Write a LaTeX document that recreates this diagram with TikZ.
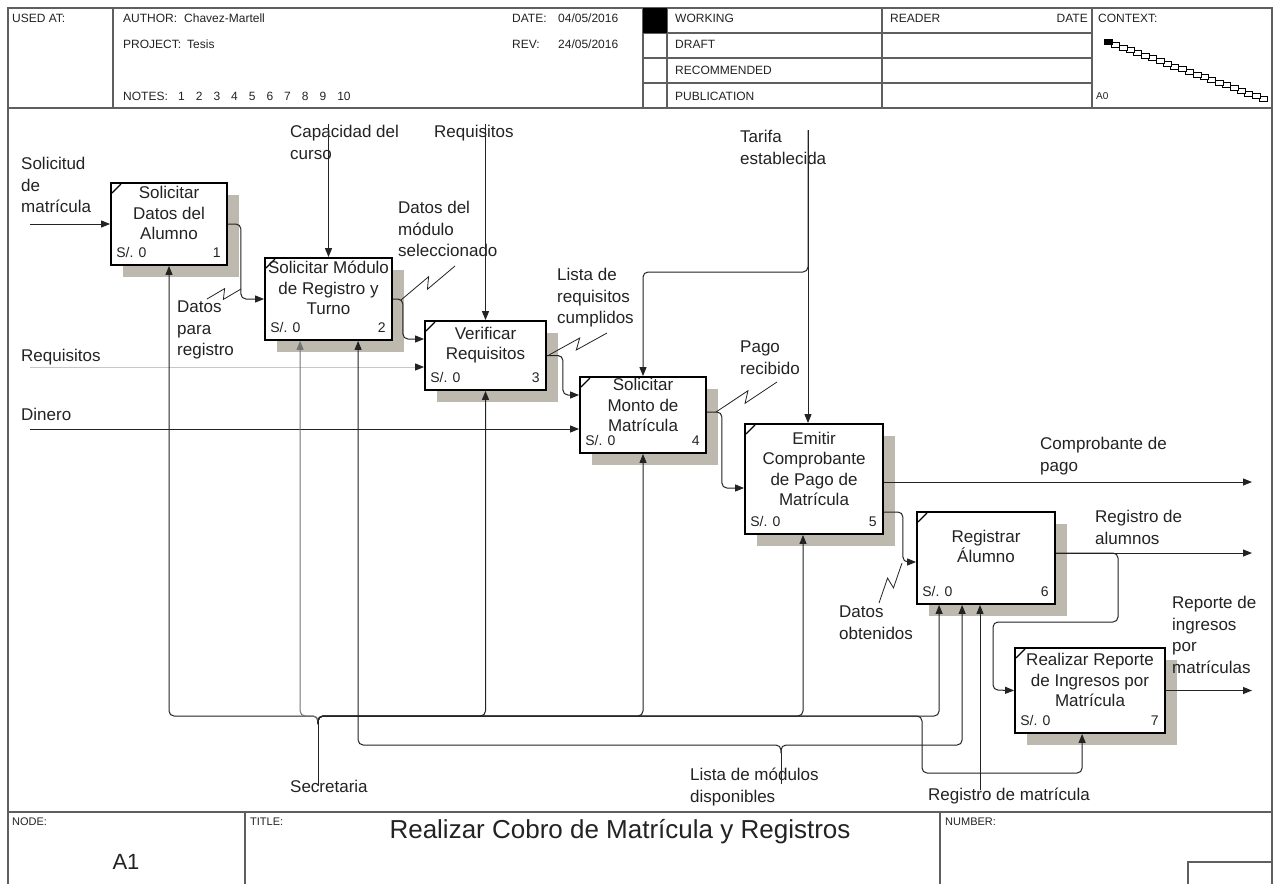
\documentclass[tikz,border=0pt]{standalone}
\usepackage{fontspec}
\setmainfont{Liberation Sans}
\usetikzlibrary{arrows.meta,calc,shadows}
\definecolor{shadowgray}{RGB}{189,185,174}
\definecolor{ink}{RGB}{35,35,35}
\definecolor{rulegray}{RGB}{95,95,95}
% label-to-arrow squiggle with a small zig in the middle
\newcommand\squiggle[2]{\draw[squig] (#1) -- ($(#1)!0.56!(#2)!5pt!90:(#2)$) -- ($(#1)!0.44!(#2)!5pt!-90:(#2)$) -- (#2);}
\begin{document}
\begin{tikzpicture}[x=1pt,y=-1pt,
  sheetline/.style={draw=rulegray, line width=1.4pt},
  proc/.style={draw=black, line width=1.8pt, fill=white,
    drop shadow={shadow xshift=12pt, shadow yshift=-12pt, fill=shadowgray, opacity=1},
    path picture={\draw[line width=1.1pt] ($(path picture bounding box.north west)+(1,10)$) -- ($(path picture bounding box.north west)+(10,1)$);}},
  ptxt/.style={font=\fontsize{17}{20.5}\selectfont, align=center, inner sep=0pt, text=ink},
  snum/.style={font=\fontsize{14}{16}\selectfont, inner sep=0pt, text=ink},
  lbl/.style={font=\fontsize{17}{21.5}\selectfont, align=left, inner sep=0pt, anchor=north west, text=ink},
  hdr/.style={font=\fontsize{12}{14}\selectfont, inner sep=0pt, anchor=west, text=ink},
  ftr/.style={font=\fontsize{11}{13}\selectfont, inner sep=0pt, anchor=west, text=ink},
  wire/.style={draw=ink, line width=1pt, rounded corners=5pt},
  arr/.style={wire, -{Triangle[length=9pt,width=7pt]}},
  squig/.style={draw=ink, line width=0.8pt}]
\useasboundingbox (0,0) rectangle (1279,884);
\fill[white] (0,0) rectangle (1279,884);

% ---- sheet frame ----
\draw[sheetline] (8,884) -- (8,8) -- (1272,8) -- (1272,884);
\draw[sheetline] (8,108) -- (1272,108);
\draw[sheetline] (8,812) -- (1272,812);
\foreach \x in {113,643,667,882,1092} \draw[sheetline] (\x,8) -- (\x,108);
\foreach \y in {33,58,83} \draw[sheetline] (643,\y) -- (1092,\y);
\fill[black] (643,8) rectangle (667,33);
\draw[sheetline] (245,812) -- (245,884);
\draw[sheetline] (940,812) -- (940,884);
\draw[sheetline] (1188,884) -- (1188,862) -- (1272,862);

% ---- header texts ----
\node[hdr] (usedat) at (12,18) {USED AT:};
\node[hdr] (author) at (123,18) {AUTHOR:};
\node[hdr] (authorname) at (184,18) {Chavez-Martell};
\node[hdr] (project) at (123,44) {PROJECT:};
\node[hdr] (projectname) at (187,44) {Tesis};
\node[hdr] (notes) at (123,96) {NOTES:};
\node[hdr] (notelist) at (178,96) {1\hspace{11pt}2\hspace{11pt}3\hspace{11pt}4\hspace{11pt}5\hspace{11pt}6\hspace{11pt}7\hspace{11pt}8\hspace{11pt}9\hspace{11pt}10};
\node[hdr] (datelbl) at (512,18) {DATE:};
\node[hdr] (dateval) at (558,18) {04/05/2016};
\node[hdr] (revlbl) at (512,44) {REV:};
\node[hdr] (revval) at (558,44) {24/05/2016};
\node[hdr] (working) at (675,18) {WORKING};
\node[hdr] (draft) at (675,44) {DRAFT};
\node[hdr] (recommended) at (675,70) {RECOMMENDED};
\node[hdr] (publication) at (675,96) {PUBLICATION};
\node[hdr] (reader) at (890,18) {READER};
\node[hdr, anchor=east] (readerdate) at (1088,18) {DATE};
\node[hdr] (context) at (1098,18) {CONTEXT:};
\node[hdr, font=\fontsize{10}{12}\selectfont] (ctxnode) at (1096,96) {A0};
% context chain
\foreach \i in {21,20,...,0} {
  \pgfmathsetmacro\cx{1108+\i*7.4}
  \pgfmathsetmacro\cy{42+\i*2.7}
  \draw[line width=0.6pt, fill=white] (\cx-4,\cy-2.5) rectangle (\cx+4,\cy+2.5);
}
\fill[black] (1104,39.5) rectangle (1112,44.5);

% ---- footer ----
\node[ftr] (nodelbl) at (12,822) {NODE:};
\node[ftr] (titlelbl) at (250,822) {TITLE:};
\node[ftr] (numberlbl) at (945,822) {NUMBER:};
\node[font=\fontsize{22}{24}\selectfont, text=ink, inner sep=0pt] (nodeid) at (126,862) {A1};
\node[font=\fontsize{26}{28}\selectfont, text=ink, inner sep=0pt] (title) at (620,832) {Realizar Cobro de Matrícula y Registros};

% ---- activity boxes ----
\node[proc, minimum width=116, minimum height=82] (b1) at (169,224) {};
\node[proc, minimum width=127, minimum height=82] (b2) at (328.5,299) {};
\node[proc, minimum width=121, minimum height=69] (b3) at (485.5,355.5) {};
\node[proc, minimum width=126, minimum height=76] (b4) at (643,415) {};
\node[proc, minimum width=138, minimum height=110] (b5) at (814,479) {};
\node[proc, minimum width=138, minimum height=92] (b6) at (986,558) {};
\node[proc, minimum width=150, minimum height=85] (b7) at (1090,690.5) {};

\foreach \b/\n in {b1/1,b2/2,b3/3,b4/4,b5/5,b6/6,b7/7} {
  \node[snum, anchor=west] (\b-cost) at ($(\b.south west)+(6,-13)$) {S/. 0};
  \node[snum, anchor=east] (\b-num) at ($(\b.south east)+(-7,-13)$) {\n};
}

% ---- inputs ----
\coordinate (inSol) at (30,224);
\coordinate (inReq) at (30,367);
\coordinate (inDin) at (30,429);
\draw[arr] (inSol) -- (b1.west);
\draw[arr, draw=black!22, -{Triangle[length=9pt,width=7pt,color=ink]}] (inReq) -- (inReq -| b3.west);
\draw[arr] (inDin) -- (inDin -| b4.west);

% ---- flows between activities ----
\draw[arr] (b1.east) -- ++(13,0) |- (b2.west);
\draw[arr] (b2.east) -- ++(10,0) |- ($(b3.west)+(0,-16.5)$);
\draw[arr] (b3.east) -- ++(16,0) |- ($(b4.west)+(0,-20)$);
\draw[arr] ($(b4.east)+(0,-3)$) -- ++(15,0) |- ($(b5.west)+(0,9)$);
\draw[arr] ($(b5.east)+(0,33)$) -- ++(19,0) |- ($(b6.west)+(0,4)$);
\coordinate (o6) at ($(b6.east)+(0,-5)$);
\draw[arr] (o6) -| (1118,622) -| (993,690) -- (b7.west);

% ---- outputs ----
\coordinate (outComp) at (1252,482);
\coordinate (outRegA) at (1252,553);
\coordinate (outRep) at (1252,690.5);
\draw[arr] (outComp -| b5.east) -- (outComp);
\draw[arr] (o6) -- (outRegA);
\draw[arr] (b7.east) -- (outRep);

% ---- controls ----
\coordinate (cCap) at (328.5,124);
\coordinate (cReq) at (485.5,124);
\coordinate (cTar) at (808,130);
\draw[arr] (cCap) -- (b2.north);
\draw[arr] (cReq) -- (b3.north);
\draw[arr] (cTar) -- (cTar |- b5.north);
\draw[arr] (cTar) -- (808,272) -| (b4.north);

% ---- mechanisms ----
\coordinate (mSec) at (318,786);
\coordinate (secJ) at (318,724);
\coordinate (mLis) at (781,784);
\coordinate (lisJ) at (781,753);
\coordinate (mRegM) at (980,790);
\draw[wire] (mSec) -- (secJ);
\draw[arr] (secJ) -- (318,716) -| (b1.south);
\draw[arr, draw=black!55] (secJ) -- (318,716) -| ($(b2.south west)+(36,0)$);
\draw[arr] (secJ) -- (318,716) -| (b3.south);
\draw[arr] (secJ) -- (318,716) -| (b4.south);
\draw[arr] (secJ) -- (318,716) -| ($(b5.south)+(-11,0)$);
\draw[arr] (secJ) -- (318,716) -| ($(b6.south west)+(23,0)$);
\draw[arr] (secJ) -- (318,716) -- (922,716) -- (922,773) -| ($(b7.south west)+(68,0)$);
\draw[wire] (mLis) -- (lisJ);
\draw[arr] (lisJ) -- (781,745) -| ($(b2.south west)+(94,0)$);
\draw[arr] (lisJ) -- (781,745) -| ($(b6.south west)+(46,0)$);
\draw[arr] (mRegM) -- (mRegM |- b6.south);

% ---- box captions ----
\node[ptxt] (b1t) at (169,213) {Solicitar\\Datos del\\Alumno};
\node[ptxt] (b2t) at (328.5,288) {Solicitar Módulo\\de Registro y\\Turno};
\node[ptxt] (b3t) at (485.5,345) {Verificar\\Requisitos};
\node[ptxt] (b4t) at (643,405) {Solicitar\\Monto de\\Matrícula};
\node[ptxt] (b5t) at (814,469) {Emitir\\Comprobante\\de Pago de\\Matrícula};
\node[ptxt] (b6t) at (986,546.5) {Registrar\\Álumno};
\node[ptxt] (b7t) at (1090,680) {Realizar Reporte\\de Ingresos por\\Matrícula};

% ---- arrow labels ----
\node[lbl] (lSol) at (21,157) {Solicitud\\de\\matrícula};
\node[lbl] (lCap) at (290,125) {Capacidad del\\curso};
\node[lbl] (lReqT) at (434,125) {Requisitos};
\node[lbl] (lMod) at (398,201) {Datos del\\módulo\\seleccionado};
\node[lbl] (lPara) at (177,301) {Datos\\para\\registro};
\node[lbl] (lReqL) at (21,349) {Requisitos};
\node[lbl] (lLista) at (557,268) {Lista de\\requisitos\\cumplidos};
\node[lbl] (lTar) at (740,130) {Tarifa\\establecida};
\node[lbl] (lPago) at (740,341) {Pago\\recibido};
\node[lbl] (lDin) at (21,408) {Dinero};
\node[lbl] (lComp) at (1040,437) {Comprobante de\\pago};
\node[lbl] (lRegA) at (1095,510) {Registro de\\alumnos};
\node[lbl] (lRep) at (1172,596) {Reporte de\\ingresos\\por\\matrículas};
\node[lbl] (lObt) at (839,606) {Datos\\obtenidos};
\node[lbl] (lSec) at (290,780) {Secretaria};
\node[lbl] (lLis) at (690,768) {Lista de módulos\\disponibles};
\node[lbl] (lRegM) at (928,788) {Registro de matrícula};

% ---- squiggles ----
\coordinate (sqParaA) at (207,299);
\coordinate (sqParaB) at (241,289);
\coordinate (sqModA) at (455,266);
\coordinate (sqModB) at (401,300);
\coordinate (sqListaA) at (607,333);
\coordinate (sqListaB) at (549,355);
\coordinate (sqPagoA) at (777,382);
\coordinate (sqPagoB) at (716,412);
\coordinate (sqObtA) at (879,603);
\coordinate (sqObtB) at (902,563);
\squiggle{sqParaA}{sqParaB}
\squiggle{sqModA}{sqModB}
\squiggle{sqListaA}{sqListaB}
\squiggle{sqPagoA}{sqPagoB}
\squiggle{sqObtA}{sqObtB}
\end{tikzpicture}
\end{document}
